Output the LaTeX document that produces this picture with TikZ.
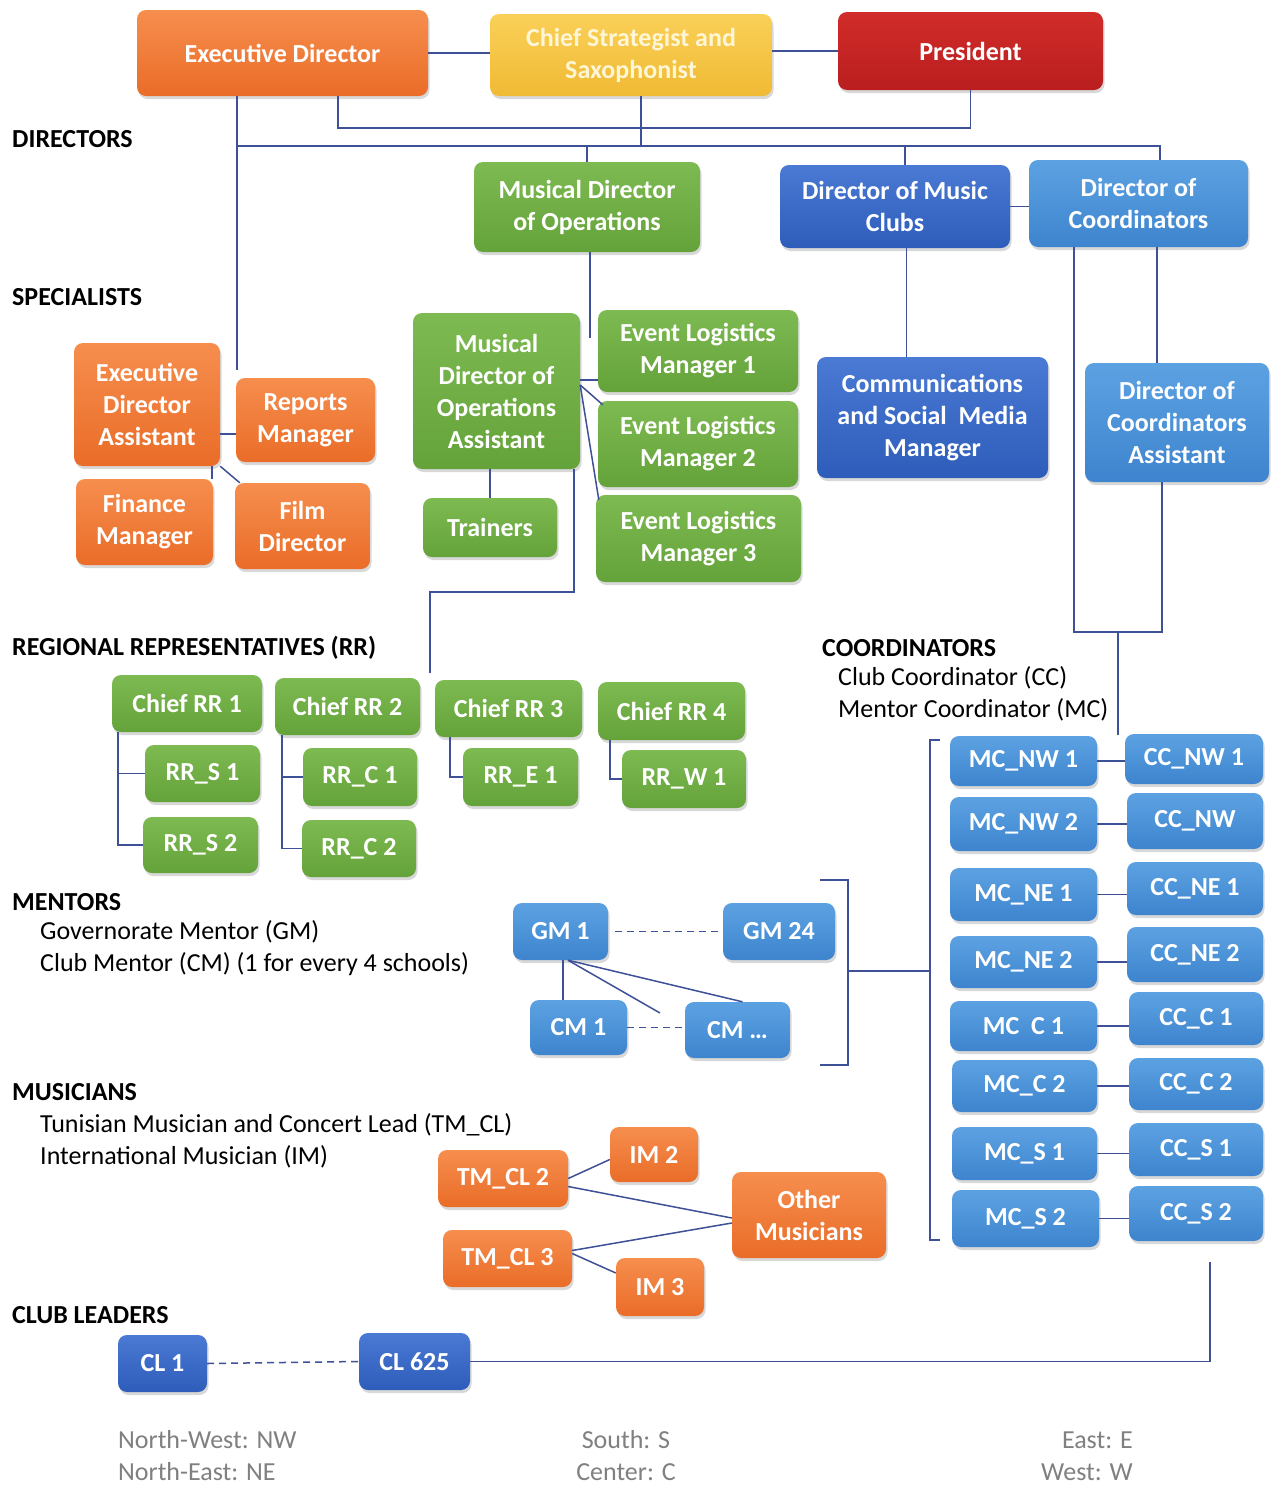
\documentclass[tikz,border=0pt]{standalone}
\usepackage{fontspec}
\setmainfont{Carlito}
\usetikzlibrary{shadows}
\definecolor{orT}{RGB}{246,142,78}
\definecolor{orB}{RGB}{234,108,40}
\definecolor{yeT}{RGB}{250,208,88}
\definecolor{yeB}{RGB}{240,186,52}
\definecolor{reT}{RGB}{208,44,42}
\definecolor{reB}{RGB}{186,30,30}
\definecolor{grT}{RGB}{126,186,82}
\definecolor{grB}{RGB}{100,162,58}
\definecolor{lbT}{RGB}{92,162,226}
\definecolor{lbB}{RGB}{62,132,206}
\definecolor{dbT}{RGB}{74,122,212}
\definecolor{dbB}{RGB}{46,92,186}
\definecolor{lineC}{RGB}{62,80,150}
\definecolor{legC}{RGB}{128,128,128}
\definecolor{paleY}{RGB}{255,246,214}
\tikzset{
  box/.style={rounded corners=9pt, align=center, inner sep=0pt, text=white,
    font=\fontsize{26}{32}\selectfont\bfseries,
    drop shadow={opacity=0.3,shadow xshift=1.5pt,shadow yshift=-3pt}},
  orangebox/.style={box, top color=orT, bottom color=orB},
  yellowbox/.style={box, top color=yeT, bottom color=yeB, text=paleY},
  redbox/.style={box, top color=reT, bottom color=reB},
  greenbox/.style={box, top color=grT, bottom color=grB},
  lbluebox/.style={box, top color=lbT, bottom color=lbB},
  dbluebox/.style={box, top color=dbT, bottom color=dbB},
  conn/.style={draw=lineC, line width=1.5pt},
  dconn/.style={conn, dash pattern=on 7pt off 5pt},
  sec/.style={anchor=west, inner sep=0pt, font=\fontsize{26}{31}\selectfont\bfseries},
  sub/.style={anchor=west, inner sep=0pt, font=\fontsize{26}{31}\selectfont},
  leg/.style={inner sep=0pt, text=legC, font=\fontsize{26}{31}\selectfont},
}
\newcommand{\bx}[7]{\node[#2, minimum width={(#5)-(#3)}, minimum height={(#6)-(#4)}] (#1) at ({((#3)+(#5))/2},{((#4)+(#6))/2}) {#7};}
\begin{document}
\begin{tikzpicture}[x=1pt,y=-1pt]
\useasboundingbox[fill=white] (0,0) rectangle (1274,1486);

% ---------- section labels ----------
\node[sec] (lDir) at (12,139) {DIRECTORS};
\node[sec] (lSpec) at (12,297) {SPECIALISTS};
\node[sec] (lRR) at (12,648) {REGIONAL REPRESENTATIVES (RR)};
\node[sec] (lMen) at (12,902) {MENTORS};
\node[sub] (lGM) at (40,932) {Governorate Mentor (GM)};
\node[sub] (lCM) at (40,964) {Club Mentor (CM) (1 for every 4 schools)};
\node[sec] (lMus) at (12,1092) {MUSICIANS};
\node[sub] (lTM) at (40,1125) {Tunisian Musician and Concert Lead (TM\_CL)};
\node[sub] (lIM) at (40,1157) {International Musician (IM)};
\node[sec] (lCL) at (12,1315) {CLUB LEADERS};
\node[sec] (lCoord) at (822,648) {COORDINATORS};
\node[sub] (lCC) at (838,678) {Club Coordinator (CC)};
\node[sub] (lMC) at (838,710) {Mentor Coordinator (MC)};

% ---------- top ----------
\bx{ed}{orangebox}{137}{10}{428}{96}{Executive Director}
\bx{cs}{yellowbox}{490}{14}{772}{96}{Chief Strategist and\\Saxophonist}
\bx{pres}{redbox}{838}{12}{1103}{90}{President}

% ---------- directors ----------
\bx{mdo}{greenbox}{474}{162}{700}{252}{Musical Director\\of Operations}
\bx{dmc}{dbluebox}{780}{165}{1010}{248}{Director of Music\\Clubs}
\bx{doc}{lbluebox}{1029}{160}{1248}{247}{Director of\\Coordinators}

% ---------- specialists ----------
\bx{eda}{orangebox}{74}{343}{220}{466}{Executive\\Director\\Assistant}
\bx{rm}{orangebox}{236}{378}{375}{462}{Reports\\Manager}
\bx{fm}{orangebox}{76}{479}{213}{565}{Finance\\Manager}
\bx{fd}{orangebox}{235}{483}{370}{569}{Film\\Director}
\bx{mdoa}{greenbox}{413}{313}{580}{469}{Musical\\Director of\\Operations\\Assistant}
\bx{el1}{greenbox}{598}{310}{798}{392}{Event Logistics\\Manager 1}
\bx{el2}{greenbox}{598}{401}{798}{487}{Event Logistics\\Manager 2}
\bx{el3}{greenbox}{596}{495}{801}{582}{Event Logistics\\Manager 3}
\bx{tr}{greenbox}{423}{498}{557}{557}{Trainers}
\bx{csm}{dbluebox}{817}{357}{1048}{478}{Communications\\and Social\ \ Media\\Manager}
\bx{doca}{lbluebox}{1085}{363}{1269}{482}{Director of\\Coordinators\\Assistant}

% ---------- regional representatives ----------
\bx{crr1}{greenbox}{112}{675}{262}{732}{Chief RR 1}
\bx{crr2}{greenbox}{275}{678}{420}{735}{Chief RR 2}
\bx{crr3}{greenbox}{435}{680}{582}{737}{Chief RR 3}
\bx{crr4}{greenbox}{598}{682}{745}{740}{Chief RR 4}
\bx{rrs1}{greenbox}{145}{745}{260}{802}{RR\_S 1}
\bx{rrs2}{greenbox}{143}{817}{258}{873}{RR\_S 2}
\bx{rrc1}{greenbox}{303}{748}{417}{806}{RR\_C 1}
\bx{rrc2}{greenbox}{302}{820}{416}{877}{RR\_C 2}
\bx{rre1}{greenbox}{463}{748}{578}{806}{RR\_E 1}
\bx{rrw1}{greenbox}{622}{750}{746}{808}{RR\_W 1}

% ---------- coordinators ----------
\bx{mc1}{lbluebox}{950}{736}{1097}{786}{MC\_NW 1}
\bx{mc2}{lbluebox}{950}{797}{1097}{851}{MC\_NW 2}
\bx{mc3}{lbluebox}{950}{868}{1097}{921}{MC\_NE 1}
\bx{mc4}{lbluebox}{950}{936}{1097}{988}{MC\_NE 2}
\bx{mc5}{lbluebox}{950}{1001}{1097}{1051}{MC\ \ C 1}
\bx{mc6}{lbluebox}{952}{1060}{1097}{1112}{MC\_C 2}
\bx{mc7}{lbluebox}{952}{1127}{1097}{1180}{MC\_S 1}
\bx{mc8}{lbluebox}{952}{1190}{1099}{1247}{MC\_S 2}
\bx{cc1}{lbluebox}{1125}{734}{1263}{784}{CC\_NW 1}
\bx{cc2}{lbluebox}{1127}{793}{1263}{849}{CC\_NW}
\bx{cc3}{lbluebox}{1127}{862}{1263}{915}{CC\_NE 1}
\bx{cc4}{lbluebox}{1127}{927}{1263}{982}{CC\_NE 2}
\bx{cc5}{lbluebox}{1129}{992}{1263}{1045}{CC\_C 1}
\bx{cc6}{lbluebox}{1129}{1058}{1263}{1110}{CC\_C 2}
\bx{cc7}{lbluebox}{1129}{1123}{1263}{1176}{CC\_S 1}
\bx{cc8}{lbluebox}{1129}{1186}{1263}{1241}{CC\_S 2}

% ---------- mentors ----------
\bx{gm1}{lbluebox}{513}{903}{608}{960}{GM 1}
\bx{gm24}{lbluebox}{723}{903}{835}{960}{GM 24}
\bx{cm1}{lbluebox}{530}{1000}{627}{1055}{CM 1}
\bx{cmd}{lbluebox}{685}{1002}{790}{1058}{CM \dots}

% ---------- musicians ----------
\bx{tm2}{orangebox}{438}{1150}{568}{1207}{TM\_CL 2}
\bx{im2}{orangebox}{610}{1127}{698}{1182}{IM 2}
\bx{om}{orangebox}{732}{1172}{886}{1258}{Other\\Musicians}
\bx{tm3}{orangebox}{443}{1230}{572}{1287}{TM\_CL 3}
\bx{im3}{orangebox}{616}{1258}{704}{1316}{IM 3}

% ---------- club leaders ----------
\bx{cl1}{dbluebox}{118}{1335}{207}{1392}{CL 1}
\bx{cl625}{dbluebox}{359}{1333}{470}{1390}{CL 625}

% ---------- legend ----------
\node[leg, anchor=west] (g1) at (118,1440) {North-West: NW};
\node[leg, anchor=west] (g2) at (118,1472) {North-East: NE};
\node[leg] (g3) at (626,1440) {South: S};
\node[leg] (g4) at (626,1472) {Center: C};
\node[leg, anchor=east] (g5) at (1133,1440) {East: E};
\node[leg, anchor=east] (g6) at (1133,1472) {West: W};

% ---------- coordinates ----------
\coordinate (busA) at (0,128);
\coordinate (busB) at (0,146);
\coordinate (edend) at (237,370);
\coordinate (mdoend) at (590,338);
\coordinate (rrjoint) at (430,592);
\coordinate (rrend) at (430,673);
\coordinate (cbus) at (0,632);
\coordinate (cdown) at (1118,735);
\coordinate (brT) at (930,740);
\coordinate (brB) at (930,1240);
\coordinate (mbT) at (848,880);
\coordinate (mbB) at (848,1065);
\coordinate (mbM) at (848,971);
\coordinate (gmfree) at (660,1013);
\coordinate (clT) at (1210,1262);

% ---------- connectors: top ----------
\draw[conn] (ed.east) -- (cs.west |- ed.east);
\draw[conn] (cs.east |- pres.west) -- (pres.west);
\draw[conn] ([xshift=55.5pt]ed.south) |- (busA -| pres.south) -- (pres.south);
\draw[conn] ([xshift=10pt]cs.south) -- ([xshift=10pt]cs.south |- busB);
\draw[conn] ([xshift=-45.5pt]ed.south) -- (edend);
\draw[conn] (edend |- busB) -| ([xshift=21.5pt]doc.north);
\draw[conn] (mdo.north |- busB) -- (mdo.north);
\draw[conn] ([xshift=10pt]dmc.north |- busB) -- ([xshift=10pt]dmc.north);
\draw[conn] (dmc.east) -- (dmc.east -| doc.west);

% ---------- connectors: specialists ----------
\draw[conn] ([xshift=3pt]mdo.south) -- (mdoend);
\draw[conn] ([yshift=-14pt]rm.west) -- ([yshift=-14pt]rm.west -| eda.east);
\draw[conn] ([xshift=-1pt]fm.north east) -- ([xshift=-1pt]fm.north east |- eda.south);
\draw[conn] (eda.south east) -- ([xshift=5pt]fd.north west);
\draw[conn] ([yshift=11pt]mdoa.east) -- ([yshift=11pt]mdoa.east -| el1.west);
\draw[conn] ([yshift=6pt]mdoa.east) -- ([xshift=5pt,yshift=-4pt]el2.north west);
\draw[conn] ([yshift=6pt]mdoa.east) -- ([xshift=3pt,yshift=-5pt]el3.north west);
\draw[conn] (tr.north |- mdoa.south) -- (tr.north);
\draw[conn] ([xshift=-26pt]csm.north |- dmc.south) -- ([xshift=-26pt]csm.north);
\draw[conn] ([xshift=-6pt]mdoa.south east) |- (rrjoint) -- (rrend);

% ---------- connectors: RR ----------
\draw[conn] ([xshift=6pt]crr1.south west) |- (rrs2.west);
\draw[conn] ([xshift=6pt]crr1.south west |- rrs1.west) -- (rrs1.west);
\draw[conn] ([xshift=7pt]crr2.south west) |- (rrc2.west);
\draw[conn] ([xshift=7pt]crr2.south west |- rrc1.west) -- (rrc1.west);
\draw[conn] ([xshift=15pt]crr3.south west) |- (rre1.west);
\draw[conn] ([xshift=12pt]crr4.south west) |- (rrw1.west);

% ---------- connectors: coordinators ----------
\draw[conn] ([xshift=18.5pt]doc.south) -- ([xshift=18.5pt]doc.south |- doca.north);
\draw[conn] ([xshift=-64.5pt]doc.south) |- ([xshift=-15pt]doca.south |- cbus) -- ([xshift=-15pt]doca.south);
\draw[conn] (cdown |- cbus) -- (cdown);
\foreach \i in {1,...,8}{\draw[conn] (mc\i.east) -- (mc\i.east -| cc\i.west);}
\draw[conn] ([xshift=10pt]brT) -- (brT) -- (brB) -- ([xshift=10pt]brB);
\draw[conn] ([xshift=-28pt]mbT) -- (mbT) -- (mbB) -- ([xshift=-28pt]mbB);
\draw[conn] (mbM) -- (mbM -| brT);

% ---------- connectors: mentors ----------
\draw[dconn] ([xshift=7pt]gm1.east) -- (gm24.west);
\draw[dconn] (cm1.east) -- (cm1.east -| cmd.west);
\draw[conn] ([xshift=2.5pt]gm1.south) -- ([xshift=2.5pt]gm1.south |- cm1.north);
\draw[conn] ([xshift=7.5pt]gm1.south) -- (gmfree);
\draw[conn] ([xshift=7.5pt]gm1.south) -- ([xshift=5pt]cmd.north);

% ---------- connectors: musicians ----------
\draw[conn] (tm2.east) -- ([yshift=-5pt]im2.west);
\draw[conn] ([yshift=-8pt]tm2.east) -- ([yshift=-3pt]om.west);
\draw[conn] ([yshift=8pt]tm3.east) -- ([yshift=-8pt]om.west);
\draw[conn] ([yshift=5pt]tm3.east) -- ([yshift=14pt]im3.west);

% ---------- connectors: club leaders ----------
\draw[dconn] (cl1.east) -- (cl625.west);
\draw[conn] (clT) |- (cl625.east);
\end{tikzpicture}
\end{document}
